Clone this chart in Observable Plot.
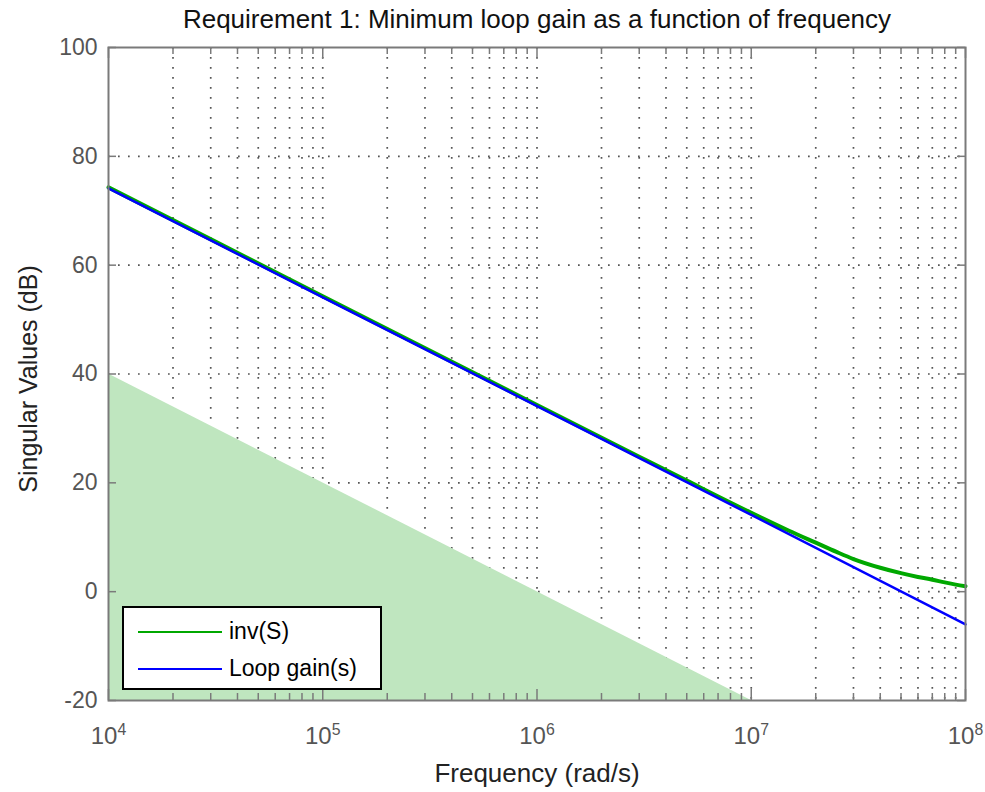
<!DOCTYPE html>
<html>
<head>
<meta charset="utf-8">
<script src="https://cdn.jsdelivr.net/npm/d3@7"></script>
<script src="https://cdn.jsdelivr.net/npm/@observablehq/plot@0.6"></script>
<style>
  html, body { margin: 0; padding: 0; background: #fff; }
  #wrap { position: relative; width: 985px; height: 792px; font-family: 'Liberation Sans', Arial, sans-serif; }
  #legend { position: absolute; left: 122px; top: 606px; width: 256px; height: 80px; background: #fff; border: 2px solid #000; }
  .key { position: absolute; left: 14px; width: 84px; height: 0; }
  .lab { position: absolute; left: 105px; font-size: 23px; color: #000; line-height: 26px; }
</style>
</head>
<body>
<div id="wrap"></div>
<script>
// ---- data ----
const titleText = "Requirement 1: Minimum loop gain as a function of frequency";
const xLabel = "Frequency (rad/s)";
const yLabel = "Singular Values (dB)";
const seriesNames = ["inv(S)", "Loop gain(s)"];

// Loop gain(s)
const loopFreq = [1e4, 1e5, 1e6, 1e7, 1e8];
const loopDb   = [74.1, 54.1, 34.1, 14.1, -6.0];

// inv(S)
const invFreq = [1e4, 1e5, 1e6, 3e6, 5e6, 1e7, 1.5e7, 2e7, 2.5e7, 3e7, 4e7, 5e7, 6e7, 7e7, 8e7, 9e7, 1e8];
const invDb   = [74.3, 54.3, 34.3, 24.8, 20.4, 14.5, 11.2, 9.0, 7.3, 6.0, 4.4, 3.4, 2.7, 2.2, 1.7, 1.3, 1.0];

// Requirement (shaded region)
const reqFreq = [1e4, 1e7];
const reqDb   = [40, -20];

// ticks
const xMajor = [1e4, 1e5, 1e6, 1e7, 1e8];
const xExp   = ["4", "5", "6", "7", "8"];
const yTicks = [-20, 0, 20, 40, 60, 80, 100];

// ---- build tables ----
const loop = loopFreq.map((f, i) => ({f, v: loopDb[i]}));
const inv = invFreq.map((f, i) => ({f, v: invDb[i]}));
const req = reqFreq.map((f, i) => ({f, v: reqDb[i]}));
const xMinor = [];
for (let i = 0; i < xMajor.length - 1; i++) for (let k = 2; k <= 9; k++) xMinor.push(xMajor[i] * k);
const xGrid = xMajor.slice(1, -1).concat(xMinor);
const yGrid = yTicks.slice(1, -1);

const axisCol = "#7a7a7a";
const gridStyle = {stroke: "#555", strokeWidth: 1.7, strokeDasharray: "1.7,8.3"};

const chart = Plot.plot({
  width: 985,
  height: 792,
  marginTop: 47,
  marginLeft: 108,
  marginRight: 20,
  marginBottom: 92,
  style: {fontFamily: "'Liberation Sans', Arial, sans-serif", fontSize: "23px", background: "#fff", color: "#000"},
  x: {type: "log", domain: [1e4, 1e8]},
  y: {domain: [-20, 100]},
  marks: [
    Plot.ruleX(xGrid, {x: d => d, ...gridStyle}),
    Plot.ruleY(yGrid, {y: d => d, ...gridStyle}),
    Plot.areaY(req, {x: "f", y1: -20, y2: "v", fill: "#bfe6bf"}),
    Plot.line(inv, {x: "f", y: "v", stroke: "#00a800", strokeWidth: 4, curve: "monotone-x"}),
    Plot.line(loop, {x: "f", y: "v", stroke: "#0000ff", strokeWidth: 2.5}),
    Plot.frame({stroke: axisCol, strokeWidth: 2}),
    // inward ticks
    Plot.ruleX(xMajor, {x: d => d, y1: -20, y2: -20, insetBottom: 11, stroke: axisCol, strokeWidth: 1.5}),
    Plot.ruleX(xMinor, {x: d => d, y1: -20, y2: -20, insetBottom: 7, stroke: axisCol, strokeWidth: 1.5}),
    Plot.ruleX(xMajor, {x: d => d, y1: 100, y2: 100, insetBottom: -11, stroke: axisCol, strokeWidth: 1.5}),
    Plot.ruleX(xMinor, {x: d => d, y1: 100, y2: 100, insetBottom: -7, stroke: axisCol, strokeWidth: 1.5}),
    Plot.ruleY(yTicks, {y: d => d, x1: 1e4, x2: 1e4, insetRight: -8, stroke: axisCol, strokeWidth: 1.5}),
    Plot.ruleY(yTicks, {y: d => d, x1: 1e8, x2: 1e8, insetLeft: -8, stroke: axisCol, strokeWidth: 1.5}),
    // tick labels
    Plot.axisX(xMajor, {tickSize: 0, tickPadding: 26, label: null, fontSize: 24, fill: "#555",
      tickFormat: d => "10^" + xExp[xMajor.indexOf(d)]}),
    Plot.axisY(yTicks, {tickSize: 0, tickPadding: 11, label: null, fontSize: 23, fill: "#555",
      tickFormat: d => String(d)}),
    // title and axis labels
    Plot.text([titleText], {frameAnchor: "top", textAnchor: "middle", lineAnchor: "bottom", dy: -20, fontSize: 26, fill: "#111"}),
    Plot.text([xLabel], {frameAnchor: "bottom", textAnchor: "middle", lineAnchor: "bottom", dy: 81, fontSize: 26, fill: "#222"}),
    Plot.text([yLabel], {frameAnchor: "left", textAnchor: "middle", rotate: -90, dx: -80, dy: 5, fontSize: 25, fill: "#222"})
  ]
});

// superscript exponents on the x tick labels
d3.select(chart).selectAll('g[aria-label="x-axis tick label"] text').each(function () {
  const parts = this.textContent.split("^");
  const t = d3.select(this);
  t.text(null);
  t.append("tspan").text(parts[0]);
  t.append("tspan").attr("dy", "-0.55em").attr("font-size", "0.66em").text(parts[1]);
});

const wrap = document.getElementById("wrap");
wrap.appendChild(chart);

// legend
const colors = ["#00a800", "#0000ff"];
const legend = document.createElement("div");
legend.id = "legend";
seriesNames.forEach((name, i) => {
  const key = document.createElement("div");
  key.className = "key";
  key.style.top = (23 + i * 37) + "px";
  key.style.borderTop = "2px solid " + colors[i];
  legend.appendChild(key);
  const lab = document.createElement("div");
  lab.className = "lab";
  lab.style.top = (10 + i * 37) + "px";
  lab.textContent = name;
  legend.appendChild(lab);
});
wrap.appendChild(legend);
</script>
</body>
</html>
